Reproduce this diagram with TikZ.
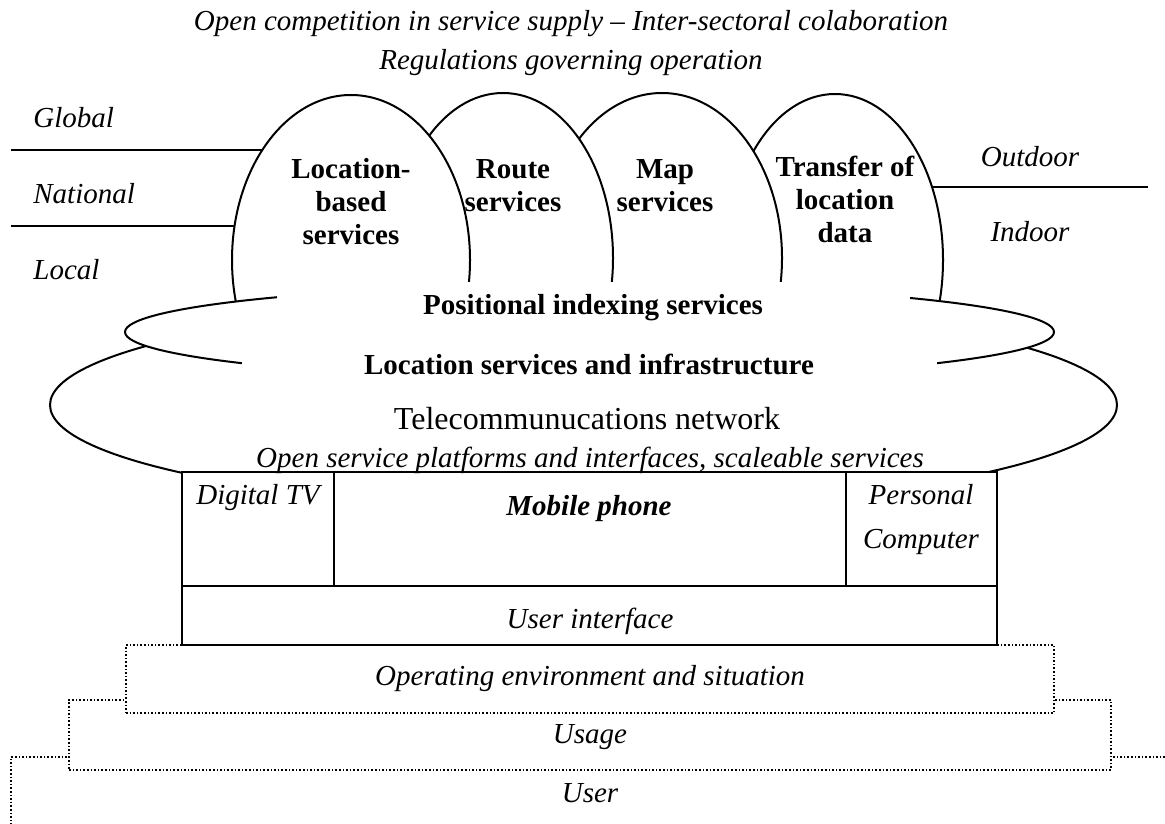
\documentclass[tikz,border=0pt]{standalone}
\usepackage{fontspec}
\setmainfont{Liberation Serif}
\usetikzlibrary{shapes.geometric}
\begin{document}
\begin{tikzpicture}[x=0.5pt,y=-0.5pt,
  solid line/.style={draw=black, line width=1pt},
  lobe/.style={ellipse, solid line, fill=white, inner sep=0pt, outer sep=0pt},
  dotbox/.style={rectangle, draw=black, fill=white, line width=0.8pt,
    dash pattern=on 0.8pt off 1pt, inner sep=0pt, outer sep=0pt, anchor=north west},
  mask/.style={rectangle, fill=white, inner sep=0pt, outer sep=0pt, anchor=north west},
  itlabel/.style={font=\fontsize{14.5}{17}\selectfont\itshape, inner sep=0pt},
  bflabel/.style={font=\fontsize{14.5}{16.5}\selectfont\bfseries, align=center, inner sep=0pt},
]
\useasboundingbox (0,0) rectangle (1165,823);
\clip (0,0) rectangle (1165,823);

% stacked context layers (dotted)
\node[dotbox, minimum width=590pt, minimum height=45pt] (userbox) at (11,757) {};
\node[dotbox, minimum width=521pt, minimum height=35pt] (usagebox) at (69,700) {};
\node[dotbox, minimum width=464pt, minimum height=34pt] (operbox) at (126,645) {};

% scope lines
\coordinate (gl) at (11,150);
\coordinate (nl) at (11,226);
\coordinate (ol) at (1148,187);
\draw[solid line] (gl) -- (300,150);
\draw[solid line] (nl) -- (300,226);
\draw[solid line] (ol) -- (900,187);

% service lobes
\node[lobe, minimum width=108pt, minimum height=166pt] (transfer) at (835,260) {};
\node[lobe, minimum width=120pt, minimum height=165pt] (map) at (662,258) {};
\node[lobe, minimum width=110pt, minimum height=165pt] (route) at (503,258) {};
\node[lobe, minimum width=119pt, minimum height=165pt] (lbs) at (351,260) {};

% outer cloud: telecommunications network
\node[lobe, minimum width=533.5pt, minimum height=103pt] (telecom) at (583.5,405) {};

% middle cloud: positional indexing / infrastructure
\node[lobe, minimum width=464.5pt, minimum height=47pt] (indexing) at (589.5,332) {};
\node[mask, minimum width=316.5pt, minimum height=24pt] (maskA) at (277,282) {};
\node[mask, minimum width=347.5pt, minimum height=26pt] (maskB) at (242,338) {};

% terminal devices and user interface
\node[rectangle, solid line, fill=white, anchor=north west, inner sep=0pt, outer sep=0pt,
      minimum width=407.5pt, minimum height=86.5pt] (devices) at (182,472) {};
\coordinate (rowL) at (182,586);
\coordinate (rowR) at (997,586);
\coordinate (d1t) at (334,472);
\coordinate (d2t) at (846,472);
\draw[solid line] (rowL) -- (rowR);
\draw[solid line] (d1t) -- (334,586);
\draw[solid line] (d2t) -- (846,586);

% texts
\node[itlabel] (t1) at (571,24) {Open competition in service supply -- Inter-sectoral colaboration};
\node[itlabel] (t2) at (571,63) {Regulations governing operation};
\node[itlabel, anchor=west] (lglobal) at (33,118) {Global};
\node[itlabel, anchor=west] (lnational) at (33,194) {National};
\node[itlabel, anchor=west] (llocal) at (33,270) {Local};
\node[itlabel] (loutdoor) at (1030,157) {Outdoor};
\node[itlabel] (lindoor) at (1030,232) {Indoor};

\node[bflabel] (tlbs) at (351,202) {Location-\\based\\services};
\node[bflabel] (troute) at (513,186) {Route\\services};
\node[bflabel] (tmap) at (665,186) {Map\\services};
\node[bflabel] (ttransfer) at (845,199) {Transfer of\\location\\data};

\node[bflabel] (tindex) at (593,308) {Positional indexing services};
\node[bflabel] (tinfra) at (589,364) {Location services and infrastructure};
\node[font=\fontsize{16}{19}\selectfont, inner sep=0pt] (ttele) at (587,419) {Telecommunucations network};
\node[itlabel] (tplat) at (590,460) {Open service platforms and interfaces, scaleable services};

\node[itlabel] (tdtv) at (258,498) {Digital TV};
\node[itlabel, font=\fontsize{14.5}{17}\selectfont\bfseries\itshape] (tmob) at (589,509) {Mobile phone};
\node[itlabel, align=center, font=\fontsize{14.5}{22}\selectfont\itshape] (tpc) at (921,520) {Personal\\Computer};
\node[itlabel] (tui) at (590,621) {User interface};
\node[itlabel] (toper) at (590,679) {Operating environment and situation};
\node[itlabel] (tusage) at (590,737) {Usage};
\node[itlabel] (tuser) at (590,793) {User};
\end{tikzpicture}
\end{document}
